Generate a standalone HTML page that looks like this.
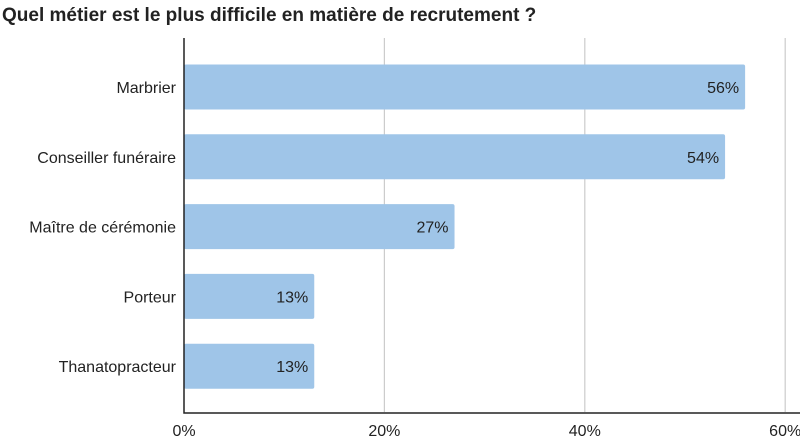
<!DOCTYPE html>
<html><head><meta charset="utf-8"><style>
body{margin:0;background:#fff;font-family:"Liberation Sans",sans-serif;}
svg{display:block}
</style></head><body>
<svg width="800" height="437" id="c">
<text x="2" y="21" font-size="19" font-weight="bold" fill="#222">Quel métier est le plus difficile en matière de recrutement ?</text>
</svg>
<script>
const categories=["Marbrier","Conseiller funéraire","Maître de cérémonie","Porteur","Thanatopracteur"];
const values=[56,54,27,13,13];
const ticks=[0,20,40,60];
const svg=document.getElementById('c');
const NS='http://www.w3.org/2000/svg';
const x=v=>184+v*10.02;
const y0=38,y1=412;
const yc=i=>87+69.8*i;
function mk(t,a){const e=document.createElementNS(NS,t);for(const k in a)e.setAttribute(k,a[k]);svg.appendChild(e);return e;}
ticks.forEach(t=>{
  if(t>0){const g=mk('line',{x1:x(t),x2:x(t),y1:y0,y2:y1,stroke:'#ccc','stroke-width':1.2});
  
  }
  const l=mk('text',{x:x(t),y:436,'text-anchor':'middle','font-size':16,fill:'#222'});l.textContent=t+'%';
  
  
});
categories.forEach((c,i)=>{
  const cy=yc(i);
  const r=mk('rect',{x:x(0),y:cy-22.5,width:x(values[i])-x(0),height:45,rx:2,fill:'#9fc5e8'});
  
  
  const v=mk('text',{x:x(values[i])-6,y:cy+6,'text-anchor':'end','font-size':16,fill:'#222'});v.textContent=values[i]+'%';
  
  
  const l=mk('text',{x:176,y:cy+6,'text-anchor':'end','font-size':16,fill:'#222'});l.textContent=c;
  
  
});
const a=mk('path',{d:`M${x(0)} ${y0}V${y1+1}H800`,stroke:'#222','stroke-width':1.5,fill:'none'});


</script>
</body></html>
